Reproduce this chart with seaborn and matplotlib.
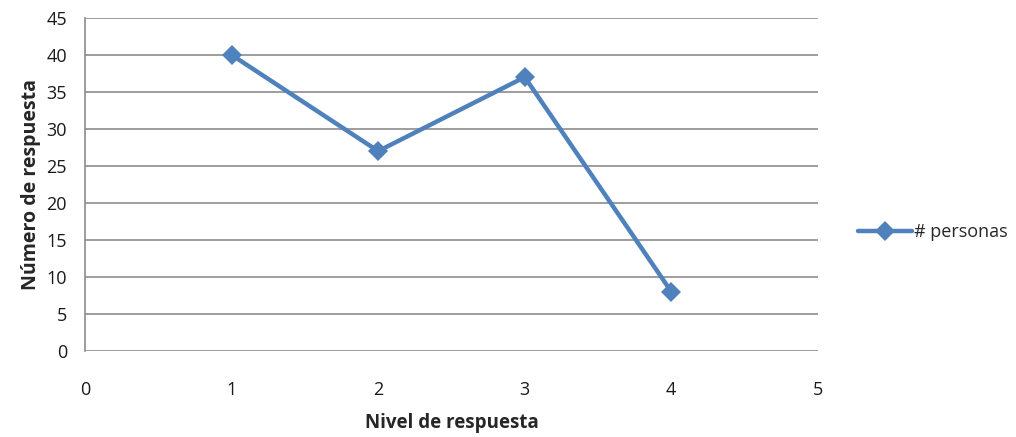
import pandas as pd
import matplotlib
matplotlib.use("Agg")
import matplotlib.pyplot as plt
import seaborn as sns

# Data
nivel = [1, 2, 3, 4]
personas = [40, 27, 37, 8]
x_ticks = [0, 1, 2, 3, 4, 5]
y_ticks = [0, 5, 10, 15, 20, 25, 30, 35, 40, 45]

df = pd.DataFrame({"Nivel": nivel, "Personas": personas})

sns.set_style("white")
plt.rcParams['font.family'] = ['Open Sans', 'DejaVu Sans']

fig = plt.figure(figsize=(10.16, 4.37), dpi=100)
ax = fig.add_axes([0.0837, 0.197, 0.7213, 0.762])

sns.lineplot(data=df, x="Nivel", y="Personas", ax=ax, color="#4F81BD",
             linewidth=3.2, marker="D", markersize=10, markeredgewidth=0,
             label="# personas")

ax.set_xlim(0, 5)
ax.set_ylim(0, 45)
ax.set_xticks(x_ticks)
ax.set_yticks(y_ticks)
ax.yaxis.grid(True, color="#8c8c8c", linewidth=1.2)
ax.xaxis.grid(False)

for s in ["top", "right", "bottom"]:
    ax.spines[s].set_visible(False)
ax.spines["left"].set_color("#8c8c8c")
ax.spines["left"].set_linewidth(1.2)

ax.tick_params(axis="y", length=0, pad=13, labelsize=13, labelcolor="#1a1a1a")
ax.tick_params(axis="x", length=0, pad=22, labelsize=13, labelcolor="#1a1a1a")

ax.set_xlabel("Nivel de respuesta", fontsize=13.5, fontweight="bold", labelpad=10)
ax.set_ylabel("Número de respuesta", fontsize=14, fontweight="bold", labelpad=4)

ax.legend(loc="center left", bbox_to_anchor=(0.832, 0.468),
          bbox_transform=fig.transFigure, frameon=False, fontsize=13,
          handlelength=3.0, handletextpad=0.1, borderpad=0.2)

fig.savefig("out.png", dpi=100)
